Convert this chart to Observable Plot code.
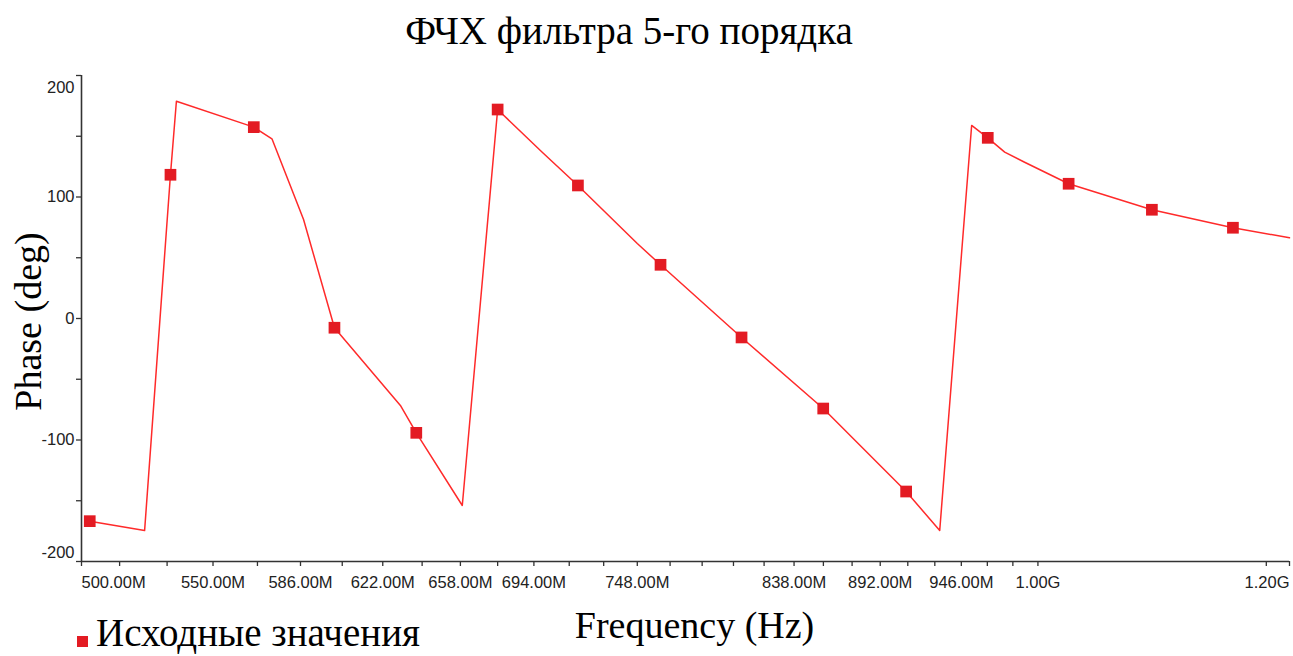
<!DOCTYPE html>
<html><head><meta charset="utf-8">
<script src="https://cdn.jsdelivr.net/npm/d3@7"></script>
<script src="https://cdn.jsdelivr.net/npm/@observablehq/plot@0.6"></script>
<style>
body{margin:0;background:#fff;}
#wrap{position:relative;width:1293px;height:656px;overflow:hidden;background:#fff;}
#title{height:62px;position:relative;}
#title span{position:absolute;left:629px;top:11px;transform:translateX(-50%);white-space:nowrap;font-family:"Liberation Serif","Times New Roman",serif;font-size:39px;color:#000;line-height:1;}
#chart svg{display:block;}
.sw{position:absolute;left:77px;top:636px;width:11px;height:11px;background:#e31b23;}
.lb{position:absolute;left:96px;top:613px;white-space:nowrap;font-family:"Liberation Serif","Times New Roman",serif;font-size:39px;line-height:1;color:#000;}
</style></head><body>
<div id="wrap">
<div id="title"><span id="tt"></span></div>
<div id="chart"></div>
<span class="sw"></span><span class="lb" id="lg"></span>
</div>
<script>
const titleText = "ФЧХ фильтра 5-го порядка";
const xLabel = "Frequency (Hz)";
const yLabel = "Phase (deg)";
const seriesName = "Исходные значения";

// sample points (markers): frequency in MHz, phase in degrees
const markerFreqMHz = [503.0, 533.3, 566.5, 600.6, 637.3, 676.0, 716.5, 760.7, 806.7, 855.9, 908.9, 964.3, 1022.5, 1086.1, 1151.8];
const markerPhase   = [-166.8, 118.3, 157.5, -7.6, -94.1, 172.0, 109.5, 44.2, -15.6, -74.1, -142.4, 148.7, 110.9, 89.5, 74.7];

// curve vertices
const curveFreqMHz = [503.0, 523.4, 533.3, 535.6, 566.5, 574.0, 587.3, 600.6, 630.0, 637.3, 658.9, 676.0, 698.2, 716.5, 748.0, 760.7, 806.7, 855.9, 908.9, 931.3, 953.1, 964.3, 976.2, 990.4, 1022.5, 1086.1, 1151.8, 1200.0];
const curvePhase   = [-166.8, -174.5, 118.3, 178.8, 157.5, 147.9, 81.5, -7.6, -71.6, -94.1, -153.9, 172.0, 136.9, 109.5, 61.7, 44.2, -15.6, -74.1, -142.4, -174.5, 158.9, 148.7, 136.9, 128.6, 110.9, 89.5, 74.7, 66.4];

// axis ticks
const xTicksMHz = [500, 514, 532, 550, 568, 586, 604, 622, 640, 658, 676, 694, 712, 730, 748, 766, 784, 802, 820, 838, 856, 874, 892, 910, 928, 946, 964, 982, 1000, 1180, 1200];
const xLabelMHz = [500, 550, 586, 622, 658, 694, 748, 838, 892, 946, 1000, 1200];
const xLabelText = ["500.00M", "550.00M", "586.00M", "622.00M", "658.00M", "694.00M", "748.00M", "838.00M", "892.00M", "946.00M", "1.00G", "1.20G"];
const yTicks = [-200, -150, -100, -50, 0, 50, 100, 150, 200];
const yLabelTicks = [-200, -100, 0, 100, 200];

document.getElementById("tt").textContent = titleText;
document.getElementById("lg").textContent = seriesName;

const markers = markerFreqMHz.map((f, i) => ({f: f * 1e6, p: markerPhase[i]}));
const curve = curveFreqMHz.map((f, i) => ({f: f * 1e6, p: curvePhase[i]}));
const labMap = new Map(xLabelMHz.map((f, i) => [f * 1e6, xLabelText[i]]));
const allX = xTicksMHz.map(f => f * 1e6);
const xFirst = xLabelMHz[0] * 1e6, xLast = xLabelMHz[xLabelMHz.length - 1] * 1e6;
const xMid = xLabelMHz.slice(1, -1).map(f => f * 1e6);
const yMin = yLabelTicks[0], yMax = yLabelTicks[yLabelTicks.length - 1];
const yMid = yLabelTicks.slice(1, -1);

const axisColor = "#333";
const serif = "'Liberation Serif','Times New Roman',serif";

const chart = Plot.plot({
  width: 1293,
  height: 594,
  marginLeft: 81,
  marginRight: 4,
  marginTop: 13,
  marginBottom: 95,
  x: {type: "log", domain: [xFirst, xLast]},
  y: {domain: [yMin, yMax]},
  style: {fontFamily: "'Liberation Sans', Arial, sans-serif", fontSize: "16.5px", color: "#222", background: "white"},
  marks: [
    Plot.axisX({ticks: allX, tickSize: 5, stroke: axisColor, strokeWidth: 1.3, tickFormat: () => "", label: null}),
    Plot.axisX({ticks: xMid, tickSize: 0, tickPadding: 15, tickFormat: d => labMap.get(d), label: null}),
    Plot.axisX({ticks: [xFirst], tickSize: 0, tickPadding: 15, textAnchor: "start", tickFormat: d => labMap.get(d), label: null}),
    Plot.axisX({ticks: [xLast], tickSize: 0, tickPadding: 15, textAnchor: "end", tickFormat: d => labMap.get(d), label: null}),
    Plot.axisY({ticks: yTicks, tickSize: 5, stroke: axisColor, strokeWidth: 1.3, tickFormat: () => "", label: null}),
    Plot.axisY({ticks: yMid, tickSize: 0, tickPadding: 7, tickFormat: d => String(d), label: null}),
    Plot.axisY({ticks: [yMax], tickSize: 0, tickPadding: 7, dy: 12, tickFormat: d => String(d), label: null}),
    Plot.axisY({ticks: [yMin], tickSize: 0, tickPadding: 7, dy: -9, tickFormat: d => String(d), label: null}),
    Plot.ruleX([xFirst], {stroke: axisColor, strokeWidth: 1.6}),
    Plot.ruleY([yMin], {stroke: axisColor, strokeWidth: 1.6}),
    Plot.line(curve, {x: "f", y: "p", stroke: "#ff2a2a", strokeWidth: 1.5}),
    Plot.dot(markers, {x: "f", y: "p", symbol: "square", r: 6.6, fill: "#e31b23", stroke: "none"}),
    Plot.text([xLabel], {frameAnchor: "bottom", dx: 9, dy: 64, text: d => d, fontSize: 38, fontFamily: serif, fill: "#000", lineAnchor: "middle"}),
    Plot.text([yLabel], {frameAnchor: "left", dx: -53, dy: 3, rotate: -90, text: d => d, fontSize: 38, fontFamily: serif, fill: "#000", lineAnchor: "middle", textAnchor: "middle"})
  ]
});
document.getElementById("chart").appendChild(chart);
</script>
</body></html>
